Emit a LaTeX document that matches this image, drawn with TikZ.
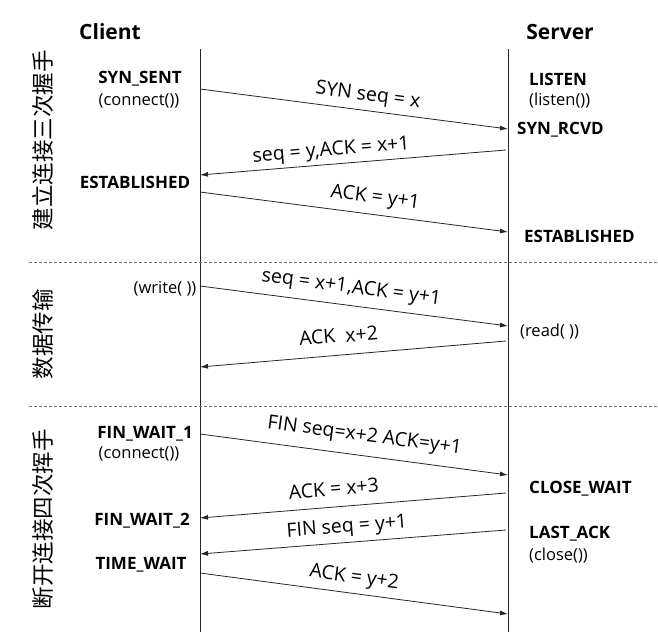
\documentclass[tikz,border=0pt]{standalone}
\usepackage{fontspec}
\setmainfont{Open Sans}
\newfontfamily\cjk{Noto Sans CJK SC}
\usetikzlibrary{arrows.meta}
\begin{document}
\begin{tikzpicture}[x=1pt,y=-1pt,
  lifeline/.style={draw=black!85,line width=0.9pt},
  sep/.style={draw=black!55,line width=0.8pt,dash pattern=on 3pt off 2pt},
  msg/.style={draw=black!85,line width=0.8pt,-{Latex[length=8pt,width=5pt]}},
  msglabel/.style={sloped,anchor=center,inner sep=0pt,text height=0.72em,text depth=0.22em,font=\fontsize{19.5}{23}\selectfont},
  title/.style={font=\fontsize{21}{25}\selectfont\bfseries,inner sep=0pt},
  state/.style={font=\fontsize{17}{20}\selectfont\bfseries,inner sep=0pt},
  call/.style={font=\fontsize{16.5}{20}\selectfont,inner sep=0pt},
  phase/.style={font=\fontsize{22.5}{26}\selectfont\cjk,rotate=90,inner sep=0pt}]
\useasboundingbox (0,0) rectangle (658,632);
\fill[white] (0,0) rectangle (658,632);
% titles
\node[title] (client) at (110,32) {Client};
\node[title] (server) at (560,32) {Server};
% lifelines
\coordinate (ctop) at (200,49);
\coordinate (cbot) at (200,632);
\coordinate (stop) at (508,49);
\coordinate (sbot) at (508,632);
\draw[lifeline] (ctop) -- (cbot);
\draw[lifeline] (stop) -- (sbot);
% separators
\coordinate (d1a) at (29,262);
\coordinate (d1b) at (658,262);
\coordinate (d2a) at (29,406);
\coordinate (d2b) at (658,406);
\draw[sep] (d1a) -- (d1b);
\draw[sep] (d2a) -- (d2b);
% phase labels
\node[phase] (p1) at (43,140) {建立连接三次握手};
\node[phase] (p2) at (43,334) {数据传输};
\node[phase] (p3) at (43,519) {断开连接四次挥手};
% states
\node[state] (synsent) at (140,79) {SYN\_SENT};
\node[call] (conn1) at (139,101) {(connect())};
\node[state] (estc) at (135,182) {ESTABLISHED};
\node[state,anchor=west] (listen) at (529,79) {LISTEN};
\node[call,anchor=west] (listenc) at (529,101) {(listen())};
\node[state,anchor=west] (synrcvd) at (517,130) {SYN\_RCVD};
\node[state,anchor=west] (ests) at (524,236) {ESTABLISHED};
\node[call] (write) at (165,289) {(write( ))};
\node[call,anchor=west] (read) at (520,332) {(read( ))};
\node[state] (fw1) at (145,434) {FIN\_WAIT\_1};
\node[call] (conn2) at (139,454) {(connect())};
\node[state] (fw2) at (142,521) {FIN\_WAIT\_2};
\node[state] (tw) at (141,565) {TIME\_WAIT};
\node[state,anchor=west] (cw) at (529,489) {CLOSE\_WAIT};
\node[state,anchor=west] (lack) at (529,534) {LAST\_ACK};
\node[call,anchor=west] (closec) at (529,556) {(close())};
% message end points
\coordinate (c1) at (200,89);  \coordinate (s1) at (508,129);
\coordinate (s2) at (506,150); \coordinate (c2) at (200,175);
\coordinate (c3) at (200,192); \coordinate (s3) at (508,232);
\coordinate (c4) at (200,286); \coordinate (s4) at (508,326);
\coordinate (s5) at (506,341); \coordinate (c5) at (200,367);
\coordinate (c6) at (200,434); \coordinate (s6) at (508,475);
\coordinate (s7) at (506,493); \coordinate (c7) at (200,518);
\coordinate (s8) at (506,530); \coordinate (c8) at (200,554);
\coordinate (c9) at (200,573); \coordinate (s9) at (508,614);
% messages
\draw[msg] (c1) -- node[msglabel,pos=0.539,yshift=12.5pt] (l1) {SYN seq = x} (s1);
\draw[msg] (s2) -- node[msglabel,pos=0.568,yshift=11pt] (l2) {seq = y,ACK = x+1} (c2);
\draw[msg] (c3) -- node[msglabel,pos=0.562,yshift=14pt] (l3) {ACK = y+1} (s3);
\draw[msg] (c4) -- node[msglabel,pos=0.484,yshift=15pt] (l4) {seq = x+1,ACK = y+1} (s4);
\draw[msg] (s5) -- node[msglabel,pos=0.542,yshift=15pt] (l5) {ACK\ \ x+2} (c5);
\draw[msg] (c6) -- node[msglabel,pos=0.526,yshift=17pt] (l6) {FIN seq=x+2 ACK=y+1} (s6);
\draw[msg] (s7) -- node[msglabel,pos=0.558,yshift=14pt] (l7) {ACK = x+3} (c7);
\draw[msg] (s8) -- node[msglabel,pos=0.516,yshift=12.5pt] (l8) {FIN seq = y+1} (c8);
\draw[msg] (c9) -- node[msglabel,pos=0.494,yshift=13pt] (l9) {ACK = y+2} (s9);
\end{tikzpicture}
\end{document}
